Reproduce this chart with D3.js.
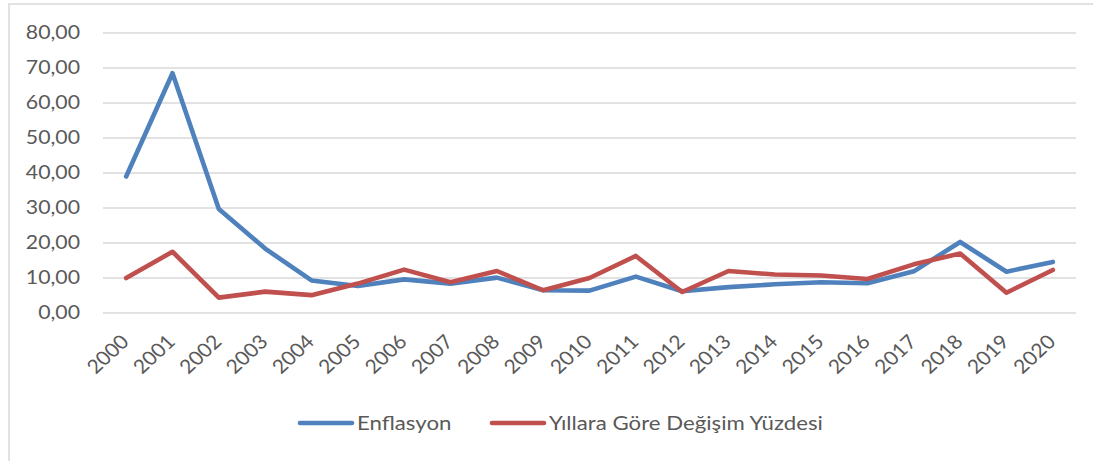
<!DOCTYPE html>
<html>
<head>
<meta charset="utf-8">
<script src="https://cdn.jsdelivr.net/npm/d3@7"></script>
<style>
  body { margin: 0; background: #fff; }
  text { font-family: Lato, "Open Sans", sans-serif; fill: #595959; }
</style>
</head>
<body>
<svg id="chart"></svg>
<script>
// data
const years = ['2000', '2001', '2002', '2003', '2004', '2005', '2006', '2007', '2008', '2009', '2010',
  '2011', '2012', '2013', '2014', '2015', '2016', '2017', '2018', '2019', '2020'];
const enflasyon = [39.0, 68.5, 29.7, 18.4, 9.3, 7.7, 9.6, 8.4, 10.1, 6.5, 6.4,
  10.4, 6.2, 7.4, 8.2, 8.8, 8.5, 11.9, 20.3, 11.8, 14.6];
const yillaraGore = [10.0, 17.5, 4.4, 6.1, 5.1, 8.4, 12.4, 8.8, 12.0, 6.5, 10.0,
  16.3, 6.0, 12.0, 11.0, 10.7, 9.7, 13.9, 17.0, 5.8, 12.3];
const seriesNames = ['Enflasyon', 'Yıllara Göre Değişim Yüzdesi'];
const yTicks = [0, 10, 20, 30, 40, 50, 60, 70, 80];

const width = 1093, height = 461;
const colors = ['#4f81bd', '#c0504d'];
const stretch = 1.15; // the source picture is a bit wider than tall

const svg = d3.select('#chart').attr('width', width).attr('height', height);

// outer chart border (only left/top visible in the crop)
svg.append('rect')
  .attr('x', 9).attr('y', 4)
  .attr('width', 1200).attr('height', 600)
  .attr('fill', 'none')
  .attr('stroke', '#d9d9d9')
  .attr('stroke-width', 1.5);

const x = d3.scaleBand().domain(years).range([103, 1076]);
const y = d3.scaleLinear().domain([0, 80]).range([313, 33]);

// gridlines
svg.append('g')
  .selectAll('line')
  .data(yTicks)
  .join('line')
  .attr('x1', 103).attr('x2', 1076)
  .attr('y1', d => y(d)).attr('y2', d => y(d))
  .attr('stroke', '#d9d9d9')
  .attr('stroke-width', 1.5);

// y labels
const fmt = d => d.toFixed(2).replace('.', ',');
svg.append('g')
  .selectAll('text')
  .data(yTicks)
  .join('text')
  .attr('transform', d => `translate(80,${y(d)}) scale(${stretch},1)`)
  .attr('dy', '0.35em')
  .attr('text-anchor', 'end')
  .attr('font-size', 18.5)
  .text(fmt);

// x labels, rotated
svg.append('g')
  .selectAll('text')
  .data(years)
  .join('text')
  .attr('transform', d => `translate(${x(d) + x.bandwidth() / 2 + 4},343) scale(1.08,1) rotate(-45)`)
  .attr('text-anchor', 'end')
  .attr('font-size', 19.5)
  .text(d => d);

// lines
const line = d3.line()
  .x((d, i) => x(years[i]) + x.bandwidth() / 2)
  .y(d => y(d));

[enflasyon, yillaraGore].forEach((s, i) => {
  svg.append('path')
    .datum(s)
    .attr('d', line)
    .attr('fill', 'none')
    .attr('stroke', colors[i])
    .attr('stroke-width', 4.6)
    .attr('stroke-linejoin', 'round')
    .attr('stroke-linecap', 'round');
});

// legend
const legendX = [300, 492];
const legend = svg.append('g')
  .selectAll('g')
  .data(seriesNames)
  .join('g')
  .attr('transform', (d, i) => `translate(${legendX[i]},423)`);

legend.append('line')
  .attr('x1', 0).attr('x2', 52)
  .attr('stroke', (d, i) => colors[i])
  .attr('stroke-width', 4.6)
  .attr('stroke-linecap', 'round');

legend.append('text')
  .attr('transform', `translate(57,0) scale(1.17,1)`)
  .attr('dy', '0.35em')
  .attr('font-size', 19)
  .text(d => d);
</script>
</body>
</html>
